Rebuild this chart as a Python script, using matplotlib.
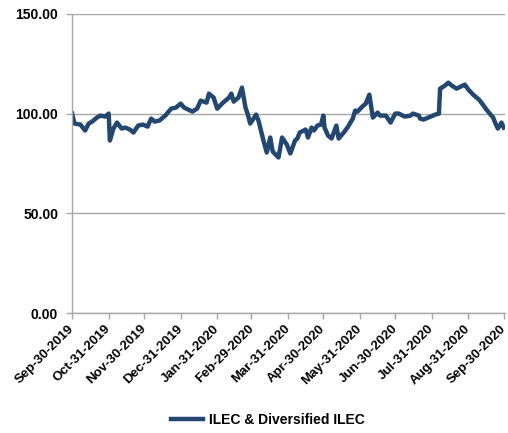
import pandas as pd
import matplotlib
matplotlib.use("Agg")
import matplotlib.pyplot as plt
import matplotlib.dates as mdates
import matplotlib.transforms as mtransforms
from matplotlib.ticker import FormatStrFormatter

# Index level, rebased to 100 on Sep-30-2019
dates = [
    "2019-09-30", "2019-10-02", "2019-10-07", "2019-10-11", "2019-10-14", "2019-10-17",
    "2019-10-21", "2019-10-24", "2019-10-28", "2019-10-31", "2019-11-01", "2019-11-04",
    "2019-11-07", "2019-11-11", "2019-11-14", "2019-11-18", "2019-11-21", "2019-11-25",
    "2019-11-29", "2019-12-03", "2019-12-06", "2019-12-09", "2019-12-13", "2019-12-18",
    "2019-12-23", "2019-12-27", "2019-12-31", "2020-01-03", "2020-01-10", "2020-01-14",
    "2020-01-17", "2020-01-22", "2020-01-24", "2020-01-28", "2020-01-31", "2020-02-05",
    "2020-02-10", "2020-02-12", "2020-02-14", "2020-02-18", "2020-02-21", "2020-02-24",
    "2020-02-26", "2020-02-28", "2020-03-04", "2020-03-06", "2020-03-10", "2020-03-13",
    "2020-03-16", "2020-03-18", "2020-03-23", "2020-03-26", "2020-03-30", "2020-04-02",
    "2020-04-06", "2020-04-08", "2020-04-10", "2020-04-15", "2020-04-17", "2020-04-20",
    "2020-04-22", "2020-04-25", "2020-04-28", "2020-04-30", "2020-05-01", "2020-05-04",
    "2020-05-07", "2020-05-11", "2020-05-13", "2020-05-18", "2020-05-21", "2020-05-25",
    "2020-05-27", "2020-05-29", "2020-06-02", "2020-06-05", "2020-06-08", "2020-06-11",
    "2020-06-15", "2020-06-17", "2020-06-22", "2020-06-26", "2020-06-30", "2020-07-03",
    "2020-07-08", "2020-07-13", "2020-07-15", "2020-07-20", "2020-07-21", "2020-07-24",
    "2020-07-30", "2020-08-03", "2020-08-06", "2020-08-07", "2020-08-11", "2020-08-14",
    "2020-08-17", "2020-08-21", "2020-08-26", "2020-08-28", "2020-08-31", "2020-09-04",
    "2020-09-09", "2020-09-11", "2020-09-16", "2020-09-21", "2020-09-23", "2020-09-25",
    "2020-09-28", "2020-09-30",
]
values = [
    100.0, 95.0, 94.5, 91.5, 95.0, 96.0,
    98.0, 99.0, 98.5, 100.0, 86.5, 92.5,
    95.5, 92.5, 93.0, 92.0, 90.5, 94.0,
    94.5, 93.5, 97.5, 96.0, 96.5, 99.0,
    102.5, 103.0, 105.0, 103.0, 101.0, 102.5,
    106.5, 105.5, 110.0, 108.0, 102.5, 105.5,
    108.0, 110.0, 106.0, 108.0, 113.0, 103.0,
    99.5, 95.0, 99.5, 96.5, 87.0, 80.5,
    88.0, 81.0, 78.0, 88.0, 84.5, 80.0,
    86.5, 87.5, 90.5, 92.0, 88.0, 93.0,
    91.5, 94.0, 94.5, 99.0, 93.0, 89.0,
    87.5, 94.0, 87.5, 91.0, 93.5, 97.5,
    101.5, 101.0, 103.5, 105.0, 109.5, 98.0,
    100.5, 99.0, 99.0, 95.5, 100.0, 100.0,
    98.5, 99.0, 100.0, 99.0, 97.5, 97.0,
    98.5, 99.5, 100.0, 112.5, 114.0, 115.5,
    114.0, 112.5, 114.0, 114.5, 112.0, 109.5,
    107.0, 105.5, 101.5, 98.0, 95.0, 92.5,
    95.5, 93.0,
]
series_name = "ILEC & Diversified ILEC"
tick_dates = [
    "2019-09-30", "2019-10-31", "2019-11-30", "2019-12-31", "2020-01-31",
    "2020-02-29", "2020-03-31", "2020-04-30", "2020-05-31", "2020-06-30",
    "2020-07-31", "2020-08-31", "2020-09-30",
]
y_ticks = [0, 50, 100, 150]

plt.rcParams['font.family'] = ['Liberation Sans', 'DejaVu Sans']
plt.rcParams['font.weight'] = 'bold'

line_color = '#24476F'
grid_color = '#A6A6A6'

fig = plt.figure(figsize=(5.08, 4.33), dpi=100)
ax = fig.add_axes([0.142, 0.277, 0.852, 0.691])

x = pd.to_datetime(dates)
ax.plot(x, values, color=line_color, linewidth=3.2, solid_joinstyle='round',
        label=series_name)

ax.set_ylim(0, 150)
ax.set_yticks(y_ticks)
ax.yaxis.set_major_formatter(FormatStrFormatter('%.2f'))
ax.set_xlim(pd.Timestamp("2019-09-30"), pd.Timestamp("2020-10-01"))
ax.set_xticks(pd.to_datetime(tick_dates))
ax.xaxis.set_major_formatter(mdates.DateFormatter('%b-%d-%Y'))

ax.grid(axis='y', color=grid_color, linewidth=1.0)
ax.set_axisbelow(True)
for side in ['top', 'right']:
    ax.spines[side].set_visible(False)
for side in ['left', 'bottom']:
    ax.spines[side].set_color(grid_color)
    ax.spines[side].set_linewidth(1.0)

ax.tick_params(axis='both', color=grid_color, length=4, width=1.0, labelsize=10)
ax.tick_params(axis='y', pad=6)
ax.tick_params(axis='x', pad=3)

# nudge the slanted date labels a few pixels left so the last one stays inside
shift = mtransforms.ScaledTranslation(-4 / 100, 0, fig.dpi_scale_trans)
for lbl in ax.get_xticklabels():
    lbl.set_rotation(45)
    lbl.set_ha('right')
    lbl.set_rotation_mode('anchor')
    lbl.set_fontsize(9.5)
    lbl.set_transform(lbl.get_transform() + shift)

fig.legend(*ax.get_legend_handles_labels(), loc='center',
           bbox_to_anchor=(0.527, 0.03), frameon=False,
           fontsize=10, handlelength=2.3, handletextpad=0.4)

fig.savefig('out.png', dpi=100)
